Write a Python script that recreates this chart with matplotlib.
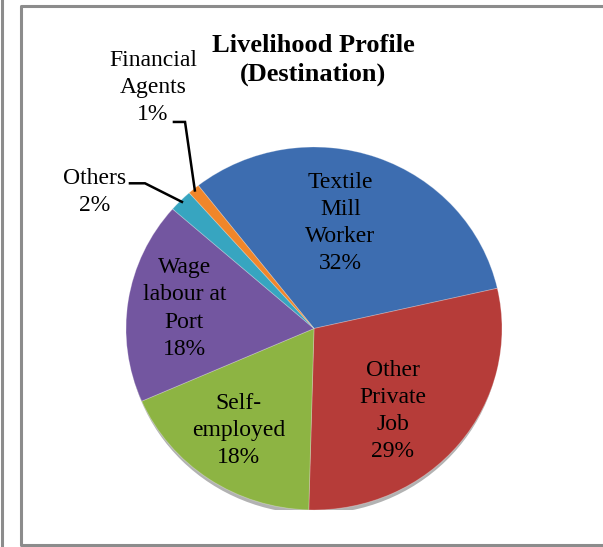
import matplotlib.pyplot as plt
from matplotlib.lines import Line2D
from matplotlib.patches import Ellipse
import numpy as np

plt.rcParams['font.family'] = ['Liberation Serif', 'DejaVu Serif']

# Livelihood shares at destination (percent)
categories = ['Textile\nMill\nWorker', 'Other\nPrivate\nJob', 'Self-\nemployed',
              'Wage\nlabour at\nPort', 'Others', 'Financial\nAgents']
shares = [32, 29, 18, 18, 2, 1]
colors = ['#3d6db0', '#b63c39', '#8db443', '#7356a0', '#37a5c0', '#f0862a']

# label centres in pie units; the last two sit outside with leader lines
label_pos = [(0.14, 0.58), (0.42, -0.455), (-0.40, -0.56),
             (-0.69, 0.11), (-1.165, 0.75), (-0.856, 1.33)]

W, H = 603, 547
fig = plt.figure(figsize=(W / 100, H / 100), dpi=100)

# pie area in pixels: x 126..502, y 147..510 (from top)
ax = fig.add_axes([126 / W, (H - 510) / H, 376 / W, 363 / H])

# soft shadow along the lower rim
ax.add_patch(Ellipse((0.0, -0.022), 1.985, 2.0, color='black', alpha=0.3,
                     lw=0, zorder=0))

wedges, _ = ax.pie(shares, colors=colors, startangle=128, counterclock=False,
                   wedgeprops=dict(linewidth=0.6, edgecolor=(1, 1, 1, 0.3)))
ax.set_aspect('auto')
ax.set_xlim(-1, 1)
ax.set_ylim(-1, 1)
ax.axis('off')

for cat, val, (x, y) in zip(categories, shares, label_pos):
    ax.text(x, y, f'{cat}\n{val}%', ha='center', va='center', fontsize=17,
            linespacing=1.38, color='black', clip_on=False)

# leader lines for the two small slices
def edge_point(w):
    mid = np.deg2rad((w.theta1 + w.theta2) / 2)
    return np.cos(mid) * 0.99, np.sin(mid) * 0.99

leaders = [(4, (-0.979, 0.80), -0.899), (5, (-0.745, 1.138), -0.686)]
for idx, (sx, sy), ex in leaders:
    px, py = edge_point(wedges[idx])
    ax.plot([sx, ex, px], [sy, sy, py], color='black', lw=1.8,
            clip_on=False, solid_joinstyle='miter')

fig.text(313 / W, 1 - 60 / H, 'Livelihood Profile\n(Destination)',
         ha='center', va='center', fontsize=19, fontweight='bold',
         linespacing=1.3)

# chart frame and the edge of the neighbouring panel
frame = dict(color='#8c8c8c', lw=2.2, transform=fig.transFigure)
x0, x1 = 21 / W, 1.01
y0, y1 = 1 - 545 / H, 1 - 6 / H
fig.add_artist(Line2D([x1, x0, x0, x1], [y1, y1, y0, y0], **frame))
fig.add_artist(Line2D([2 / W, 2 / W], [0, 1], **frame))

fig.savefig('out.png', dpi=100)
